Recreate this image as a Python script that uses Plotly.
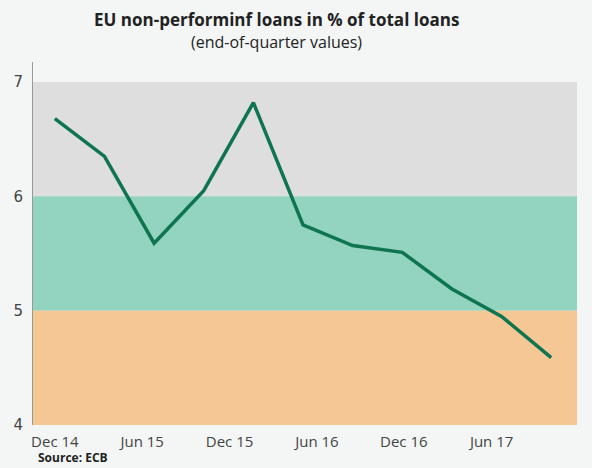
import plotly.graph_objects as go

quarters = ["Dec 14", "Mar 15", "Jun 15", "Sep 15", "Dec 15", "Mar 16",
            "Jun 16", "Sep 16", "Dec 16", "Mar 17", "Jun 17"]
npl_values = [6.68, 6.35, 5.59, 6.05, 6.82, 5.75, 5.57, 5.51, 5.19, 4.95, 4.59]
tick_labels = ["Dec 14", "Jun 15", "Dec 15", "Jun 16", "Dec 16", "Jun 17"]
tick_positions = [0, 1.76, 3.52, 5.28, 7.03, 8.8]
band_ranges = [(6, 7), (5, 6), (4, 5)]
band_colors = ["#dedede", "#93d4c0", "#f5c795"]
y_ticks = [4, 5, 6, 7]

x_idx = list(range(len(quarters)))

fig = go.Figure()
fig.add_trace(go.Scatter(
    x=x_idx, y=npl_values, mode="lines",
    line=dict(color="#0f7550", width=3.5),
    hovertext=quarters, showlegend=False,
))

for (lo, hi), col in zip(band_ranges, band_colors):
    fig.add_shape(type="rect", xref="paper", yref="y", x0=0, x1=1,
                  y0=lo, y1=hi, fillcolor=col, line=dict(width=0), layer="below")

fig.update_layout(
    width=592, height=468,
    margin=dict(l=33, r=15, t=62, b=43),
    paper_bgcolor="#f3f6f5",
    plot_bgcolor="rgba(0,0,0,0)",
    font=dict(family="Open Sans", color="#333333"),
    xaxis=dict(range=[-0.44, 10.52], tickvals=tick_positions, ticktext=tick_labels,
               showgrid=False, zeroline=False, showline=False, ticks="",
               tickfont=dict(size=15, color="#444444"), ticklabelstandoff=6),
    yaxis=dict(range=[4, 7.175], tickvals=y_ticks, showgrid=False, zeroline=False,
               showline=True, linecolor="#999999", linewidth=1, ticks="",
               tickfont=dict(size=15, color="#444444", family="DejaVu Sans"),
               ticklabelstandoff=6),
    annotations=[
        dict(text="<b>EU non-performinf loans in % of total loans</b>",
             xref="paper", yref="paper", x=(276 - 33) / 544, y=(468 - 43 - 20) / 363,
             xanchor="center", yanchor="middle", showarrow=False,
             font=dict(size=17, color="#222222")),
        dict(text="(end-of-quarter values)",
             xref="paper", yref="paper", x=(276 - 33) / 544, y=(468 - 43 - 42) / 363,
             xanchor="center", yanchor="middle", showarrow=False,
             font=dict(size=16, color="#222222")),
        dict(text="<b>Source: ECB</b>", xref="paper", yref="paper",
             x=0.005, y=-(458 - 425) / 363, xanchor="left", yanchor="middle",
             showarrow=False, font=dict(size=12, color="#222222")),
    ],
)

fig.write_html("out.html")
